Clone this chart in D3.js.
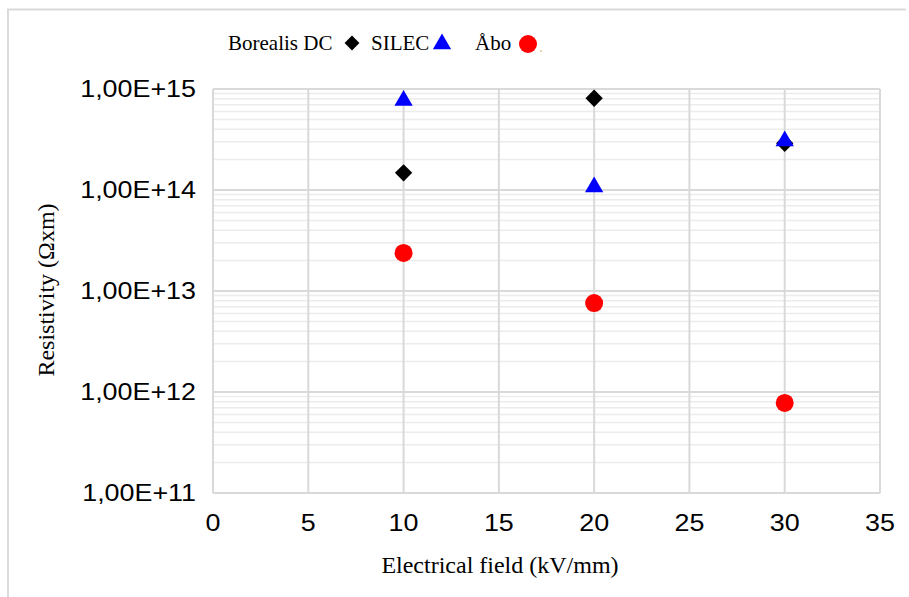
<!DOCTYPE html>
<html>
<head>
<meta charset="utf-8">
<script src="https://cdn.jsdelivr.net/npm/d3@7"></script>
<style>
  body { margin: 0; background: #fff; }
</style>
</head>
<body>
<svg id="chart" width="909" height="597"></svg>
<script>
// Data
const fields = [10, 20, 30];
const borealis = [1.48e14, 8.1e14, 2.9e14];
const silec = [7.7e14, 1.07e14, 3.05e14];
const abo = [2.38e13, 7.6e12, 7.8e11];
const xTicks = [0, 5, 10, 15, 20, 25, 30, 35];
const yTicks = [1e11, 1e12, 1e13, 1e14, 1e15];

// Layout
const plotLeft = 213, plotRight = 880, plotTop = 89, plotBottom = 493;
const gridMajor = '#d9d9d9';
const gridMinor = '#ececec';
const stretch = 1.12; // tick labels look horizontally stretched

const svg = d3.select('#chart');

// Scales
const x = d3.scaleLinear().domain([0, 35]).range([plotLeft, plotRight]);
const y = d3.scaleLog().domain([1e11, 1e15]).range([plotBottom, plotTop]);

// Outer frame (top and left only)
svg.append('path')
  .attr('d', `M8,597 V9.5 H906`)
  .attr('fill', 'none')
  .attr('stroke', '#dadada')
  .attr('stroke-width', 2);

// Minor horizontal gridlines
const minorValues = [];
yTicks.slice(0, -1).forEach(d => {
  for (let k = 2; k <= 9; k++) minorValues.push(d * k);
});
svg.append('g')
  .selectAll('line')
  .data(minorValues)
  .join('line')
  .attr('x1', plotLeft).attr('x2', plotRight)
  .attr('y1', d => y(d)).attr('y2', d => y(d))
  .attr('stroke', gridMinor)
  .attr('stroke-width', 1.5);

// Major gridlines
svg.append('g')
  .selectAll('line')
  .data(yTicks)
  .join('line')
  .attr('x1', plotLeft).attr('x2', plotRight)
  .attr('y1', d => y(d)).attr('y2', d => y(d))
  .attr('stroke', gridMajor)
  .attr('stroke-width', 2);
svg.append('g')
  .selectAll('line')
  .data(xTicks)
  .join('line')
  .attr('x1', d => x(d)).attr('x2', d => x(d))
  .attr('y1', plotTop).attr('y2', plotBottom)
  .attr('stroke', gridMajor)
  .attr('stroke-width', 2);

// Tick labels
svg.append('g')
  .attr('font-family', 'Liberation Sans, Arial, sans-serif')
  .attr('font-size', 24)
  .attr('fill', '#000')
  .selectAll('text')
  .data(yTicks)
  .join('text')
  .attr('transform', d => `translate(196,${y(d)}) scale(${stretch},1)`)
  .attr('dy', '0.35em')
  .attr('text-anchor', 'end')
  .text(d => '1,00E+' + Math.round(Math.log10(d)));
svg.append('g')
  .attr('font-family', 'Liberation Sans, Arial, sans-serif')
  .attr('font-size', 24)
  .attr('fill', '#000')
  .selectAll('text')
  .data(xTicks)
  .join('text')
  .attr('transform', d => `translate(${x(d)},523) scale(${stretch},1)`)
  .attr('dy', '0.35em')
  .attr('text-anchor', 'middle')
  .text(d => d);

// Axis titles
svg.append('text')
  .attr('x', 500).attr('y', 565)
  .attr('dy', '0.35em')
  .attr('text-anchor', 'middle')
  .attr('font-family', 'Liberation Serif, Times New Roman, serif')
  .attr('font-size', 24)
  .text('Electrical field (kV/mm)');
svg.append('text')
  .attr('transform', 'translate(46,290) rotate(-90)')
  .attr('dy', '0.35em')
  .attr('text-anchor', 'middle')
  .attr('font-family', 'Liberation Serif, Times New Roman, serif')
  .attr('font-size', 24)
  .text('Resistivity (\u03A9xm)');

// Markers
const diamond = d3.symbol().type(d3.symbolSquare).size(150);
const triangle = d3.symbol().type(d3.symbolTriangle).size(145);

const series = [
  {name: 'Borealis DC', values: borealis},
  {name: 'SILEC', values: silec},
  {name: 'Åbo', values: abo}
];

svg.append('g')
  .selectAll('path')
  .data(fields.map((f, i) => ({f, v: borealis[i]})))
  .join('path')
  .attr('d', diamond)
  .attr('transform', d => `translate(${x(d.f)},${y(d.v)}) rotate(45)`)
  .attr('fill', '#000');

svg.append('g')
  .selectAll('path')
  .data(fields.map((f, i) => ({f, v: silec[i]})))
  .join('path')
  .attr('d', triangle)
  .attr('transform', d => `translate(${x(d.f)},${y(d.v)})`)
  .attr('fill', '#0000ff');

svg.append('g')
  .selectAll('circle')
  .data(fields.map((f, i) => ({f, v: abo[i]})))
  .join('circle')
  .attr('cx', d => x(d.f))
  .attr('cy', d => y(d.v))
  .attr('r', 9)
  .attr('fill', '#ff0000');

// Legend
const legend = svg.append('g')
  .attr('font-family', 'Liberation Serif, Times New Roman, serif')
  .attr('font-size', 21);
legend.append('text').attr('x', 228).attr('y', 43).attr('dy', '0.35em').text(series[0].name);
legend.append('path').attr('d', d3.symbol().type(d3.symbolSquare).size(110))
  .attr('transform', 'translate(352,43) rotate(45)').attr('fill', '#000');
legend.append('text').attr('x', 371).attr('y', 43).attr('dy', '0.35em').text(series[1].name);
legend.append('path').attr('d', triangle)
  .attr('transform', 'translate(442,44)').attr('fill', '#0000ff');
legend.append('text').attr('x', 475).attr('y', 43).attr('dy', '0.35em').text(series[2].name);
legend.append('circle').attr('cx', 528).attr('cy', 44).attr('r', 9).attr('fill', '#ff0000');
legend.append('circle').attr('cx', 541).attr('cy', 51).attr('r', 0.8).attr('fill', '#d9a050');
</script>
</body>
</html>
